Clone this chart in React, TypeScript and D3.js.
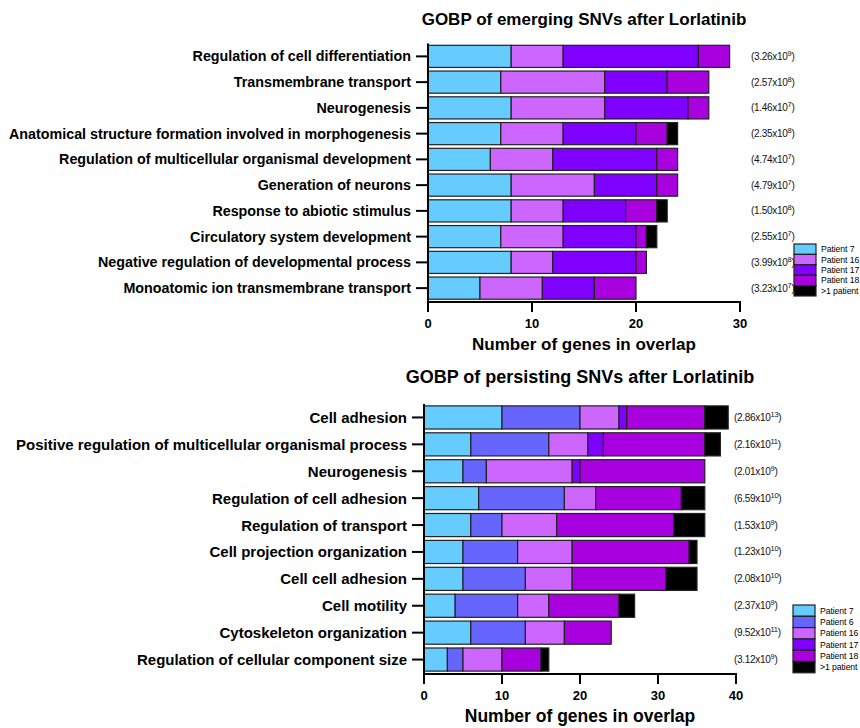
import React from "react";
import * as d3 from "d3";

// ---- data ----
const emergingTerms = [
  "Regulation of cell differentiation",
  "Transmembrane transport",
  "Neurogenesis",
  "Anatomical structure formation involved in morphogenesis",
  "Regulation of multicellular organismal development",
  "Generation of neurons",
  "Response to abiotic stimulus",
  "Circulatory system development",
  "Negative regulation of developmental process",
  "Monoatomic ion transmembrane transport",
];
const emergingP7 = [8, 7, 8, 7, 6, 8, 8, 7, 8, 5];
const emergingP16 = [5, 10, 9, 6, 6, 8, 5, 6, 4, 6];
const emergingP17 = [13, 6, 8, 7, 10, 6, 6, 7, 8, 5];
const emergingP18 = [3, 4, 2, 3, 2, 2, 3, 1, 1, 4];
const emergingMulti = [0, 0, 0, 1, 0, 0, 1, 1, 0, 0];
const emergingPvals = [
  ["3.26", "9"], ["2.57", "8"], ["1.46", "7"], ["2.35", "8"], ["4.74", "7"],
  ["4.79", "7"], ["1.50", "8"], ["2.55", "7"], ["3.99", "8"], ["3.23", "7"],
];
const emergingTicks = [0, 10, 20, 30];

const persistingTerms = [
  "Cell adhesion",
  "Positive regulation of multicellular organismal process",
  "Neurogenesis",
  "Regulation of cell adhesion",
  "Regulation of transport",
  "Cell projection organization",
  "Cell cell adhesion",
  "Cell motility",
  "Cytoskeleton organization",
  "Regulation of cellular component size",
];
const persistingP7 = [10, 6, 5, 7, 6, 5, 5, 4, 6, 3];
const persistingP6 = [10, 10, 3, 11, 4, 7, 8, 8, 7, 2];
const persistingP16 = [5, 5, 11, 4, 7, 7, 6, 4, 5, 5];
const persistingP17 = [1, 2, 1, 0, 0, 0, 0, 0, 0, 0];
const persistingP18 = [10, 13, 16, 11, 15, 15, 12, 9, 6, 5];
const persistingMulti = [3, 2, 0, 3, 4, 1, 4, 2, 0, 1];
const persistingPvals = [
  ["2.86", "13"], ["2.16", "11"], ["2.01", "9"], ["6.59", "10"], ["1.53", "9"],
  ["1.23", "10"], ["2.08", "10"], ["2.37", "9"], ["9.52", "11"], ["3.12", "9"],
];
const persistingTicks = [0, 10, 20, 30, 40];

const colors: Record<string, string> = {
  "Patient 7": "#66ccff",
  "Patient 6": "#6666ff",
  "Patient 16": "#cc66ff",
  "Patient 17": "#8000ff",
  "Patient 18": "#a800de",
  ">1 patient": "#000000",
};

const FONT = "'Liberation Sans', Arial, Helvetica, sans-serif";

type Series = { name: string; values: number[] };

function StackedChart({
  title,
  titleY,
  titleSize,
  labelSize,
  axisTitleSize,
  terms,
  series,
  pvals,
  ticks,
  x0,
  x1,
  y0,
  y1,
  pvalX,
  legendX,
  legendY,
  legendBox,
}: {
  title: string;
  titleY: number;
  titleSize: number;
  labelSize: number;
  axisTitleSize: number;
  terms: string[];
  series: Series[];
  pvals: string[][];
  ticks: number[];
  x0: number;
  x1: number;
  y0: number;
  y1: number;
  pvalX: number;
  legendX: number;
  legendY: number;
  legendBox: number;
}) {
  const keys = series.map((s) => s.name);
  const rows = terms.map((t, i) => {
    const r: any = { term: t };
    series.forEach((s) => (r[s.name] = s.values[i]));
    return r;
  });
  const stacked = d3.stack().keys(keys)(rows);

  const x = d3.scaleLinear().domain([0, ticks[ticks.length - 1]]).range([x0, x1]);
  const y = d3
    .scaleBand()
    .domain(terms)
    .range([y0, y1])
    .paddingInner(0.14)
    .paddingOuter(0.07);
  const bw = y.bandwidth();

  return (
    <g fontFamily={FONT}>
      <text
        x={(x0 + x1) / 2}
        y={titleY}
        textAnchor="middle"
        fontWeight="bold"
        fontSize={titleSize}
      >
        {title}
      </text>

      {stacked.map((layer) => (
        <g key={layer.key} fill={colors[layer.key]}>
          {layer.map((d, i) =>
            d[1] - d[0] > 0 ? (
              <rect
                key={i}
                x={x(d[0])}
                y={y(terms[i])}
                width={x(d[1]) - x(d[0])}
                height={bw}
                stroke="#222"
                strokeWidth={1.2}
              />
            ) : null
          )}
        </g>
      ))}

      {/* y axis */}
      <line x1={x0} x2={x0} y1={y0} y2={y1 + 1} stroke="#000" strokeWidth={2} />
      {terms.map((t) => {
        const cy = (y(t) as number) + bw / 2;
        return (
          <g key={t}>
            <line x1={x0 - 12} x2={x0} y1={cy} y2={cy} stroke="#000" strokeWidth={2} />
            <text
              x={x0 - 17}
              y={cy}
              textAnchor="end"
              dominantBaseline="central"
              fontWeight="bold"
              fontSize={labelSize}
            >
              {t}
            </text>
          </g>
        );
      })}

      {/* x axis */}
      <line x1={x0 - 1} x2={x1 + 1} y1={y1 + 1} y2={y1 + 1} stroke="#000" strokeWidth={2} />
      {ticks.map((t) => (
        <g key={t}>
          <line x1={x(t)} x2={x(t)} y1={y1} y2={y1 + 11} stroke="#000" strokeWidth={2} />
          <text
            x={x(t)}
            y={y1 + 27}
            textAnchor="middle"
            fontWeight="bold"
            fontSize={13}
          >
            {t}
          </text>
        </g>
      ))}
      <text
        x={(x0 + x1) / 2}
        y={y1 + 49}
        textAnchor="middle"
        fontWeight="bold"
        fontSize={axisTitleSize}
      >
        Number of genes in overlap
      </text>

      {/* p-values */}
      {terms.map((t, i) => {
        const cy = (y(t) as number) + bw / 2;
        return (
          <text
            key={t}
            x={pvalX}
            y={cy + 3.5}
            fontSize={10}
            letterSpacing={-0.3}
            fill="#111"
          >
            ({pvals[i][0]}x10
            <tspan dy={-4} fontSize={7.5}>
              {pvals[i][1]}
            </tspan>
            <tspan dy={4}>)</tspan>
          </text>
        );
      })}

      {/* legend */}
      {keys.map((k, i) => (
        <g key={k}>
          <rect
            x={legendX}
            y={legendY + i * legendBox}
            width={22}
            height={legendBox}
            fill={colors[k]}
            stroke="#222"
            strokeWidth={1.2}
          />
          <text
            x={legendX + 27}
            y={legendY + i * legendBox + legendBox / 2}
            dominantBaseline="central"
            fontSize={8.7}
            letterSpacing={-0.1}
          >
            {k}
          </text>
        </g>
      ))}
    </g>
  );
}

export default function App() {
  const emergingSeries: Series[] = [
    { name: "Patient 7", values: emergingP7 },
    { name: "Patient 16", values: emergingP16 },
    { name: "Patient 17", values: emergingP17 },
    { name: "Patient 18", values: emergingP18 },
    { name: ">1 patient", values: emergingMulti },
  ];
  const persistingSeries: Series[] = [
    { name: "Patient 7", values: persistingP7 },
    { name: "Patient 6", values: persistingP6 },
    { name: "Patient 16", values: persistingP16 },
    { name: "Patient 17", values: persistingP17 },
    { name: "Patient 18", values: persistingP18 },
    { name: ">1 patient", values: persistingMulti },
  ];

  return (
    <svg
      width={860}
      height={728}
      style={{ position: "absolute", left: 0, top: 0, background: "#fff" }}
    >
      <StackedChart
        title="GOBP of emerging SNVs after Lorlatinib"
        titleY={25}
        titleSize={17}
        labelSize={14.3}
        axisTitleSize={17}
        terms={emergingTerms}
        series={emergingSeries}
        pvals={emergingPvals}
        ticks={emergingTicks}
        x0={428}
        x1={740}
        y0={43.5}
        y1={301}
        pvalX={751}
        legendX={794}
        legendY={244}
        legendBox={10.4}
      />
      <StackedChart
        title="GOBP of persisting SNVs after Lorlatinib"
        titleY={383}
        titleSize={18}
        labelSize={15}
        axisTitleSize={17.5}
        terms={persistingTerms}
        series={persistingSeries}
        pvals={persistingPvals}
        ticks={persistingTicks}
        x0={424}
        x1={736}
        y0={404}
        y1={673}
        pvalX={734}
        legendX={793}
        legendY={605}
        legendBox={11.3}
      />
    </svg>
  );
}
